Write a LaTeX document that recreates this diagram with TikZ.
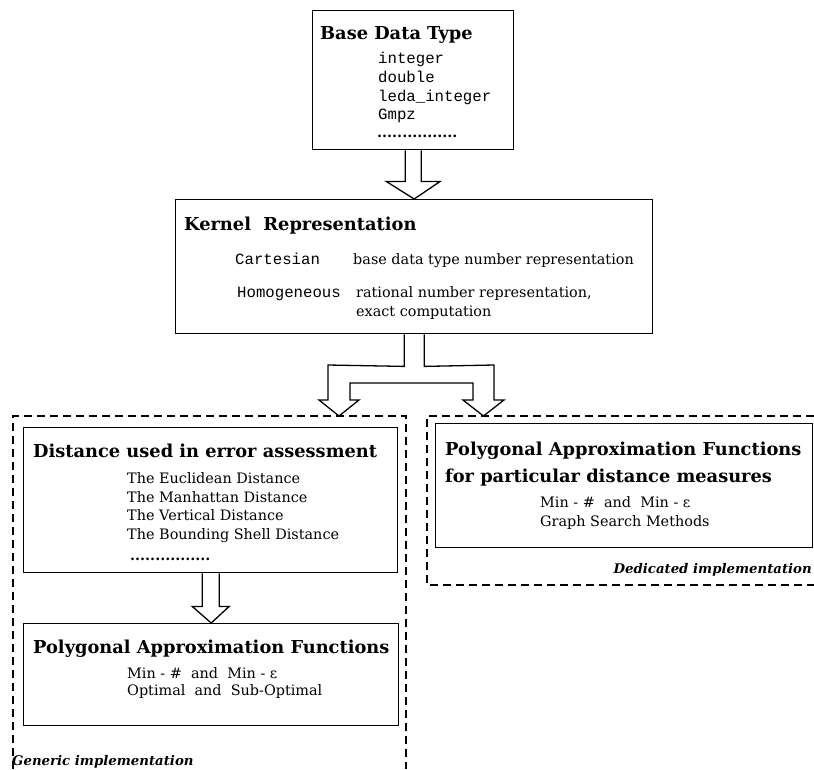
\documentclass[tikz,border=0pt]{standalone}
\usepackage{fontspec}
\setmainfont{DejaVu Serif}
\setmonofont{Liberation Mono}
\usetikzlibrary{calc}
\begin{document}
\begin{tikzpicture}[x=1pt,y=-1pt,
  box/.style={draw, line width=1.4pt, anchor=north west, inner sep=0pt},
  grp/.style={draw, line width=1.2pt, dash pattern=on 8pt off 5pt},
  ttl/.style={font=\bfseries\fontsize{17.8}{21}\selectfont, anchor=base west, inner sep=0pt},
  txt/.style={font=\fontsize{14.4}{17}\selectfont, anchor=base west, inner sep=0pt},
  mono/.style={font=\ttfamily\fontsize{15.7}{18}\selectfont, anchor=base west, inner sep=0pt},
  lbl/.style={font=\bfseries\itshape\fontsize{13.3}{16}\selectfont, inner sep=0pt},
  blk/.style={draw, line width=1.3pt, fill=white, line join=miter}]
\useasboundingbox (0,0) rectangle (814,769);

% boxes
\node[box, minimum width=201pt, minimum height=139pt] (base) at (312,10) {};
\node[box, minimum width=477pt, minimum height=134pt] (kern) at (175,199) {};
\node[box, minimum width=374pt, minimum height=145pt] (dist) at (23,427) {};
\node[box, minimum width=375pt, minimum height=102pt] (polyL) at (23,623) {};
\node[box, minimum width=377pt, minimum height=124pt] (polyR) at (435,423) {};

% dashed groups
\coordinate (gLbl) at (13,769);
\coordinate (gLtl) at (13,416);
\coordinate (gLtr) at (406,416);
\coordinate (gLbr) at (406,769);
\draw[grp] (gLbl) -- (gLtl) -- (gLtr) -- (gLbr);
\coordinate (gRtr) at (814,416);
\coordinate (gRtl) at (427,416);
\coordinate (gRbl) at (427,585);
\coordinate (gRbr) at (814,585);
\draw[grp] (gRtr) -- (gRtl) -- (gRbl) -- (gRbr);

% base text
\node[ttl] (tBase) at (320,39.5) {Base Data Type};
\node[mono] (m1) at (378,63) {integer};
\node[mono] (m2) at (378,82) {double};
\node[mono] (m3) at (378,101) {leda\_integer};
\node[mono] (m4) at (378,119) {Gmpz};
\node[txt] (d1) at (377,137) {\textbf{................}};

% kernel text
\node[ttl] (tKern) at (184,230) {Kernel\ \ Representation};
\node[mono] (kc) at (235,264) {Cartesian};
\node[txt] (kc2) at (353,264) {base data type number representation};
\node[mono] (kh) at (237,297) {Homogeneous};
\node[txt] (kh2) at (356,297) {rational number representation,};
\node[txt] (kh3) at (356,316) {exact computation};

% distance text
\node[ttl] (tDist) at (33,457) {Distance used in error assessment};
\node[txt] (e1) at (127,483) {The Euclidean Distance};
\node[txt] (e2) at (127,502) {The Manhattan Distance};
\node[txt] (e3) at (127,520) {The Vertical Distance};
\node[txt] (e4) at (127,539) {The Bounding Shell Distance};
\node[txt] (d2) at (130,560) {\textbf{................}};

% left poly text
\node[ttl] (tPL) at (33,653) {Polygonal Approximation Functions};
\node[txt] (pl1) at (127,678) {Min - \#\ \ and\ \ Min - ε};
\node[txt] (pl2) at (127,695) {Optimal\ \ and\ \ Sub-Optimal};

% right poly text
\node[ttl] (tPR1) at (445,455) {Polygonal Approximation Functions};
\node[ttl] (tPR2) at (445,482) {for particular distance measures};
\node[txt] (pr1) at (540,507) {Min - \#\ \ and\ \ Min - ε};
\node[txt] (pr2) at (540,526) {Graph Search Methods};

% group labels
\node[lbl, anchor=base west] (gen) at (12,765) {Generic implementation};
\node[lbl, anchor=base east] (ded) at (812,573) {Dedicated implementation};

% arrow base -> kernel
\draw[blk] ($(base.south)+(-8,0)$) -- ($(base.south)+(-8,31)$) -- ($(base.south)+(-27,31)$)
  -- (kern.north) -- ($(base.south)+(27,31)$) -- ($(base.south)+(8,31)$) -- ($(base.south)+(8,0)$);

% arrow dist -> polyL
\draw[blk] ($(dist.south)+(-8.5,0)$) -- ($(dist.south)+(-8.5,33)$) -- ($(dist.south)+(-18.5,33)$)
  -- (polyL.north) -- ($(dist.south)+(18.5,33)$) -- ($(dist.south)+(8.5,33)$) -- ($(dist.south)+(8.5,0)$);

% fork arrow kernel -> groups
\coordinate (tipL) at (339,416);
\coordinate (tipR) at (483.5,416);
\draw[blk] ($(kern.south)+(-10,0)$) -- ($(kern.south)+(-10,32)$) -- (328,365) -- (328,400) -- (319,400)
  -- (tipL) -- (359,400) -- (350,400) -- (350,383) -- (473,383) -- (473,400) -- (463,400)
  -- (tipR) -- (504,400) -- (494,400) -- (494,365) -- ($(kern.south)+(10,32)$) -- ($(kern.south)+(10,0)$);
\end{tikzpicture}
\end{document}
